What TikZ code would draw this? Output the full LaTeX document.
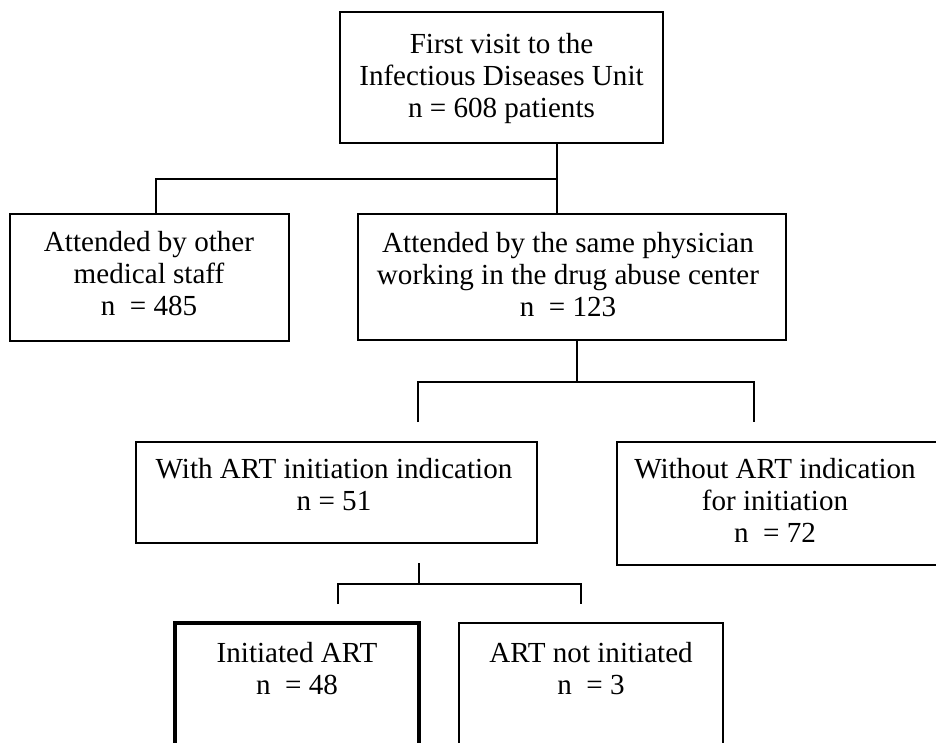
\documentclass[tikz,border=0pt]{standalone}
\usepackage{fontspec}
\setmainfont{Liberation Serif}
\usetikzlibrary{calc}

\begin{document}
\begin{tikzpicture}[x=0.44pt, y=-0.44pt,
  box/.style={draw, line width=0.9pt, inner sep=0pt},
  thickbox/.style={box, line width=1.8pt},
  txt/.style={align=center, inner sep=0pt, anchor=north, font=\fontsize{12.8}{14.1}\selectfont},
  link/.style={line width=0.9pt}]
  \useasboundingbox (0,0) rectangle (936,742);
  \clip (0,0) rectangle (936,742);

  % boxes
  \node[box, minimum width={323*0.44pt}, minimum height={131*0.44pt}] (visit) at (501.5,77.5) {};
  \node[box, minimum width={279*0.44pt}, minimum height={127*0.44pt}] (other) at (149.5,277.5) {};
  \node[box, minimum width={428*0.44pt}, minimum height={126*0.44pt}] (same) at (572,277) {};
  \node[box, minimum width={401*0.44pt}, minimum height={101*0.44pt}] (with) at (336.5,492.5) {};
  \node[box, minimum width={338*0.44pt}, minimum height={123*0.44pt}] (without) at (786,503.5) {};
  \node[thickbox, minimum width={244*0.44pt}, minimum height={157*0.44pt}] (init) at (297,701.5) {};
  \node[box, minimum width={264*0.44pt}, minimum height={157*0.44pt}] (notinit) at (591,701.5) {};

  % texts
  \node[txt] (visit-t) at (501.5,33) {First visit to the\\Infectious Diseases Unit\\n = 608 patients};
  \node[txt] (other-t) at (149,231) {Attended by other\\medical staff\\n\ \ = 485};
  \node[txt] (same-t) at (568,232) {Attended by the same physician\\working in the drug abuse center\\n\ \ = 123};
  \node[txt] (with-t) at (334,458) {With ART initiation indication\\n = 51};
  \node[txt] (without-t) at (775,458) {Without ART indication\\for initiation\\n\ \ = 72};
  \node[txt] (init-t) at (297,642) {Initiated ART\\n\ \ = 48};
  \node[txt] (notinit-t) at (591,642) {ART not initiated\\n\ \ = 3};

  % connectors
  \coordinate (j1) at (557,179);
  \coordinate (j1l) at (156,179);
  \draw[link] (visit.south -| j1) -- (same.north -| j1);
  \draw[link] (j1) -- (j1l) -- (j1l |- other.north);

  \coordinate (j2) at (577,382);
  \coordinate (e2a) at (418,422);
  \coordinate (e2b) at (754,422);
  \draw[link] (same.south -| j2) -- (j2);
  \draw[link] (e2a) |- (j2) -| (e2b);

  \coordinate (s3) at (419,563);
  \coordinate (j3) at (419,584);
  \coordinate (e3a) at (338,604);
  \coordinate (e3b) at (581,604);
  \draw[link] (s3) -- (j3);
  \draw[link] (e3a) |- (j3) -| (e3b);
\end{tikzpicture}
\end{document}
